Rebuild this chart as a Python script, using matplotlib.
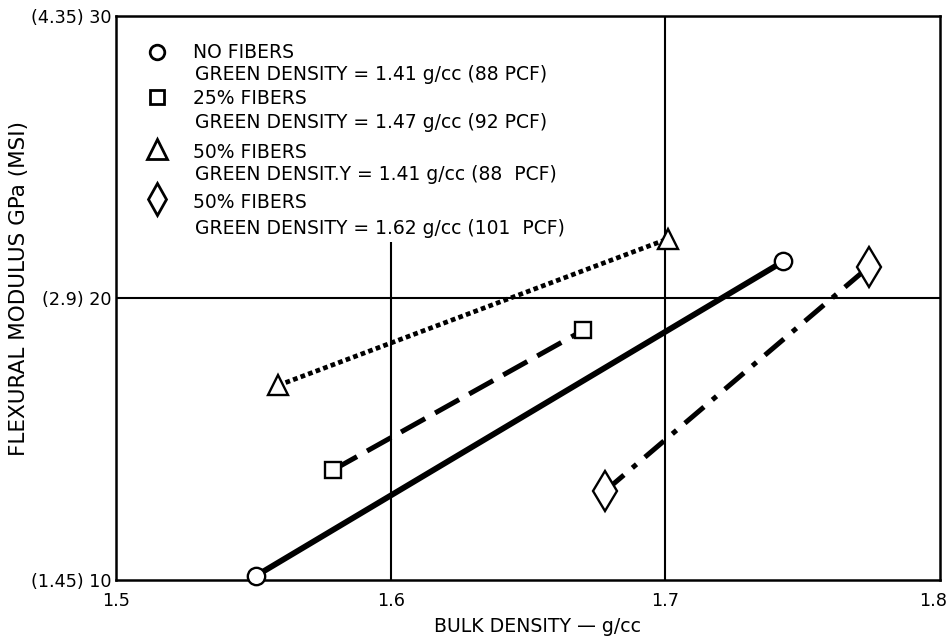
import matplotlib
matplotlib.use("Agg")
import matplotlib.pyplot as plt
import matplotlib.transforms as mtransforms
from matplotlib.lines import Line2D
from matplotlib.patches import Rectangle

plt.rcParams['font.family'] = ['DejaVu Sans']

# Bulk density (g/cc) and flexural modulus (GPa) for each fiber series
no_fibers_x = [1.551, 1.743]
no_fibers_y = [10.15, 21.3]
fibers25_x = [1.579, 1.670]
fibers25_y = [13.9, 18.85]
fibers50_low_x = [1.559, 1.701]
fibers50_low_y = [16.9, 22.1]
fibers50_high_x = [1.678, 1.774]
fibers50_high_y = [13.15, 21.1]

series_names = ["NO FIBERS", "25% FIBERS", "50% FIBERS", "50% FIBERS"]
series_notes = [
    "GREEN DENSITY = 1.41 g/cc (88 PCF)",
    "GREEN DENSITY = 1.47 g/cc (92 PCF)",
    "GREEN DENSIT.Y = 1.41 g/cc (88  PCF)",
    "GREEN DENSITY = 1.62 g/cc (101  PCF)",
]

x_ticks = [1.5, 1.6, 1.7, 1.8]
x_tick_labels = ["1.5", "1.6", "1.7", "1.8"]
y_ticks = [10, 20, 30]
y_tick_labels = ["(1.45) 10", "(2.9) 20", "(4.35) 30"]

W, H = 950, 642
fig = plt.figure(figsize=(W / 100, H / 100), dpi=100)
ax_l, ax_r, ax_t, ax_b = 116, 940, 16, 580
ax = fig.add_axes([ax_l / W, 1 - ax_b / H, (ax_r - ax_l) / W, (ax_b - ax_t) / H])

ax.set_xlim(1.5, 1.8)
ax.set_ylim(10, 30)

# Grid only at interior major divisions
for gx in [1.6, 1.7]:
    ax.axvline(gx, color="black", lw=1.5, zorder=1)
ax.axhline(20, color="black", lw=1.5, zorder=1)

# White panel behind the key
ax.add_patch(Rectangle((0.004, 0.60), 0.56, 0.40, transform=ax.transAxes,
                       facecolor="white", edgecolor="none", zorder=1.5))

mk = dict(markerfacecolor="white", markeredgecolor="black", markeredgewidth=1.7,
          color="black", zorder=3, clip_on=False,
          solid_capstyle="butt", dash_capstyle="butt")

ax.plot(no_fibers_x, no_fibers_y, lw=4.2, ls="-", marker="o", ms=12.5, **mk)
ax.plot(fibers25_x, fibers25_y, lw=3.6, dashes=(5.5, 2.3), marker="s", ms=12, **mk)
ax.plot(fibers50_low_x, fibers50_low_y, lw=3.4, dashes=(1.0, 0.7), marker="^", ms=15, **mk)
ax.plot(fibers50_high_x, fibers50_high_y, lw=3.6, dashes=(5, 2.2, 1.1, 2.2), marker="d", ms=20, **mk)

ax.set_xticks(x_ticks)
ax.set_xticklabels(x_tick_labels, fontsize=12.7)
ax.set_yticks(y_ticks)
ax.set_yticklabels(y_tick_labels, fontsize=12.7)
ax.tick_params(length=0, pad=3)
ax.tick_params(axis="x", pad=9)

# Keep the last x label inside the canvas
last = ax.get_xticklabels()[-1]
last.set_transform(last.get_transform() +
                   mtransforms.ScaledTranslation(-7 / 100, 0, fig.dpi_scale_trans))

for s in ax.spines.values():
    s.set_linewidth(1.8)
    s.set_color("black")
    s.set_zorder(2.5)

fig.text(538 / W, 1 - 627 / H, "BULK DENSITY \u2014 g/cc", fontsize=13.6,
         ha="center", va="center")
fig.text(19 / W, 1 - 288 / H, "FLEXURAL MODULUS GPa (MSI)", fontsize=15.5,
         rotation=90, ha="center", va="center")

# Key drawn in the upper-left corner
def ax_y(py):
    return (ax_b - py) / (ax_b - ax_t)

def ax_x(px):
    return (px - ax_l) / (ax_r - ax_l)

markers = ["o", "s", "^", "d"]
marker_sizes = [10.5, 10, 14, 16]
name_rows = [52, 99, 152, 202]
note_rows = [75, 123, 175, 228]
marker_rows = [52, 97, 149, 199]
for m, ms, name, note, ny, ty, my in zip(markers, marker_sizes, series_names,
                                         series_notes, name_rows, note_rows, marker_rows):
    ax.add_line(Line2D([ax_x(157)], [ax_y(my)], transform=ax.transAxes, marker=m, ms=ms,
                       markerfacecolor="white", markeredgecolor="black",
                       markeredgewidth=2.0, ls="none", zorder=4))
    ax.text(ax_x(193), ax_y(ny), name, transform=ax.transAxes, fontsize=13.5,
            va="center", ha="left", zorder=4)
    ax.text(ax_x(195), ax_y(ty), note, transform=ax.transAxes, fontsize=13.5,
            va="center", ha="left", zorder=4)

fig.savefig("out.png", dpi=100, facecolor="white")
